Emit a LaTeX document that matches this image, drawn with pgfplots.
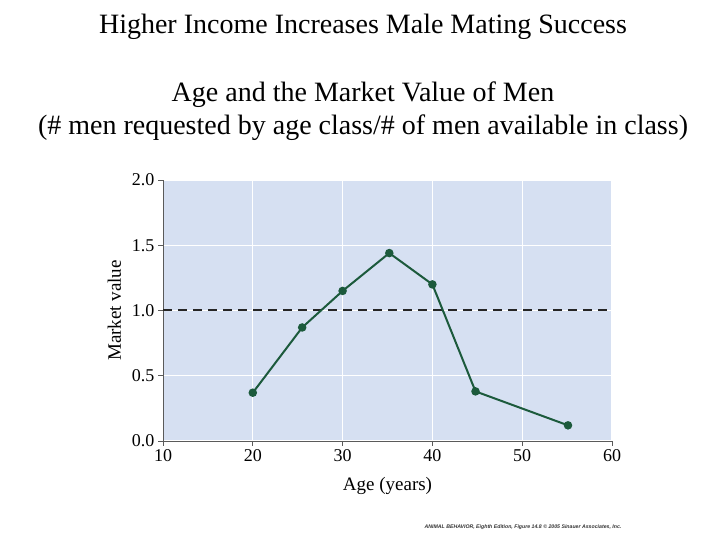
\documentclass[border=0pt]{standalone}
\usepackage{pgfplots}
\pgfplotsset{compat=1.18}
\usepackage{fontspec}
\setmainfont{Liberation Serif}
\setsansfont{Liberation Sans}
\definecolor{bgblue}{RGB}{214,224,242}
\definecolor{dgreen}{RGB}{28,90,60}
\definecolor{axgray}{RGB}{90,90,90}
\begin{document}
\begin{tikzpicture}[x=1pt,y=1pt]
\useasboundingbox[fill=white] (0,0) rectangle (720,540);
\node[font=\fontsize{28}{32}\selectfont] at (363,513) {Higher Income Increases Male Mating Success};
\node[font=\fontsize{28}{32}\selectfont] at (363,445) {Age and the Market Value of Men};
\node[font=\fontsize{28}{32}\selectfont] at (363,412) {(\# men requested by age class/\# of men available in class)};
\begin{axis}[
  at={(163pt,99pt)}, anchor=south west,
  width=449pt, height=261pt, scale only axis,
  xmin=10, xmax=60, ymin=0, ymax=2,
  xtick={10,20,...,60}, ytick={0,0.5,...,2},
  yticklabel style={/pgf/number format/.cd,fixed,fixed zerofill,precision=1},
  /pgf/number format/assume math mode=true,
  axis x line*=bottom, axis y line*=left,
  axis line style={axgray,-, line width=0.8pt},
  tick style={axgray, line width=0.8pt},
  tick align=outside, major tick length=5pt,
  grid=major, grid style={white, line width=1.2pt},
  axis background/.style={fill=bgblue},
  tick label style={font=\fontsize{18}{20}\selectfont},
  label style={font=\fontsize{19}{22}\selectfont},
  xlabel={Age (years)}, ylabel={Market value},
  xlabel style={yshift=-9pt},
  ylabel style={yshift=4pt},
  clip=false,
]
\addplot[black!85, line width=2pt, dash pattern=on 9pt off 6pt] coordinates {(10,1) (60,1)};
\addplot[dgreen, line width=2pt, mark=*, mark size=3.2pt, mark options={fill=dgreen}] coordinates {
(20,0.37) (25.5,0.87) (30,1.15) (35.2,1.44) (40,1.2) (44.8,0.38) (55.1,0.12)
};
\end{axis}
\node[font=\sffamily\bfseries\itshape\fontsize{5.2}{6}\selectfont, text=black!80] at (523,13) {ANIMAL BEHAVIOR, Eighth Edition, Figure 14.8 \textcopyright\ 2005 Sinauer Associates, Inc.};
\end{tikzpicture}
\end{document}
